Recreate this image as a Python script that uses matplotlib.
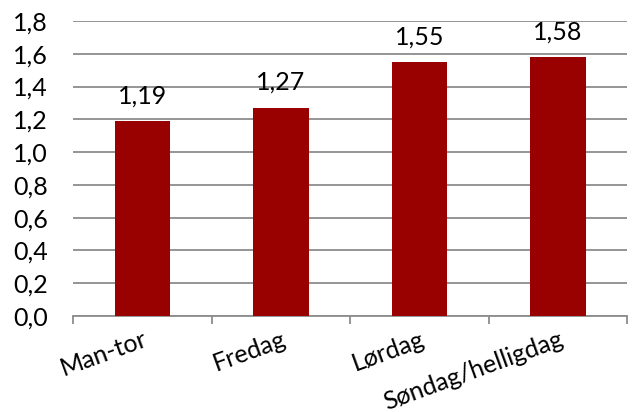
import matplotlib
matplotlib.use("Agg")
import matplotlib.pyplot as plt
from matplotlib.ticker import FixedLocator, FuncFormatter

categories = ["Man-tor", "Fredag", "Lørdag", "Søndag/helligdag"]
values = [1.19, 1.27, 1.55, 1.58]
yticks = [0.0, 0.2, 0.4, 0.6, 0.8, 1.0, 1.2, 1.4, 1.6, 1.8]

plt.rcParams['font.family'] = ['Lato', 'DejaVu Sans']
bar_color = '#990000'
grid_color = '#8c8c8c'
fs = 18

fig = plt.figure(figsize=(6.36, 4.12), dpi=100)
ax = fig.add_axes([0.115, 0.233, 0.871, 0.716])

x = list(range(len(categories)))
ax.bar(x, values, width=0.4, color=bar_color, zorder=3)

for xi, v in zip(x, values):
    ax.annotate(f"{v:.2f}".replace('.', ','), (xi, v), xytext=(0, 10),
                textcoords='offset points', ha='center', va='bottom', fontsize=fs)

ax.set_xlim(-0.5, len(categories) - 0.5)
ax.set_ylim(0, 1.8)
ax.set_yticks(yticks)
ax.yaxis.set_major_formatter(FuncFormatter(lambda v, p: f"{v:.1f}".replace('.', ',')))
ax.grid(axis='y', color=grid_color, linewidth=1.3, zorder=0)
ax.tick_params(axis='y', length=0, labelsize=fs, pad=18)

ax.set_xticks(x)
ax.set_xticklabels(categories, rotation=20, ha='right', rotation_mode='anchor', fontsize=fs)
ax.tick_params(axis='x', which='major', length=0, pad=8)
ax.xaxis.set_minor_locator(FixedLocator([i - 0.5 for i in range(len(categories) + 1)]))
ax.tick_params(axis='x', which='minor', length=6, color=grid_color, width=1.3)

for s in ['top', 'right', 'left']:
    ax.spines[s].set_visible(False)
ax.spines['bottom'].set_color(grid_color)
ax.spines['bottom'].set_linewidth(1.3)

fig.savefig("out.png", dpi=100)
